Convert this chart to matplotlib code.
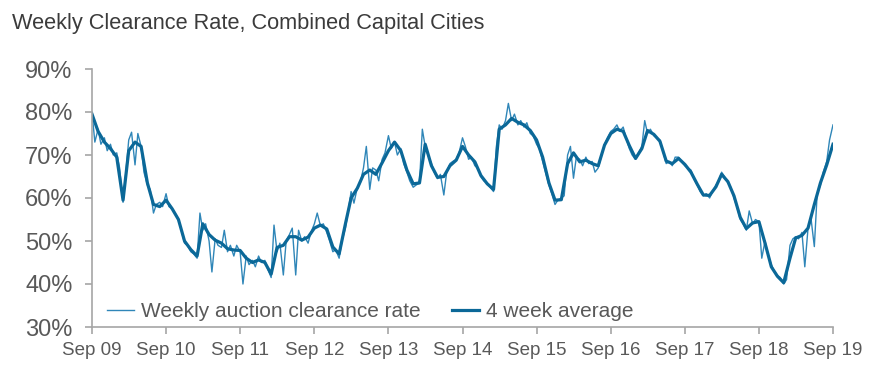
import matplotlib
matplotlib.use("Agg")
import matplotlib.pyplot as plt
import matplotlib.dates as mdates
import pandas as pd

# ---- data ----
title = "Weekly Clearance Rate, Combined Capital Cities"
series_weekly_name = "Weekly auction clearance rate"
series_avg_name = "4 week average"

# weekly auction clearance rate, sampled twice a month (1st and 15th), Sep 2009 .. Sep 2019
weekly_rate = [
    80, 73, 76, 72.5, 74, 71, 72.5, 70, 70.5, 67, 59, 66, 73.5, 75.3, 67.7, 75,
    72, 66, 63, 62, 56.5, 58.5, 59, 58,
    61, 58, 57.5, 56.5, 55, 52.5, 49.5, 49, 47.5, 47, 46, 56.5, 52.5, 54, 50, 42.8,
    50.5, 49, 48.5, 52.5, 47.5, 49, 46.5, 49,
    47.5, 40, 46.5, 44.5, 45.5, 44, 46.5, 45, 45.5, 43.5, 41.5, 53.7, 47.5, 49.5, 42.1, 50,
    51.5, 53, 42.1, 52.5, 50, 51, 49.5, 52,
    54, 56.5, 53.5, 54, 52, 50, 47.5, 48, 46, 50, 53, 57, 61.5, 58.8, 62.5, 63.5,
    67, 72, 62, 67, 66.5, 64, 69, 70.5,
    74.5, 71.5, 73, 70, 71.5, 68, 66, 64, 62.5, 63, 63.5, 76, 72, 70, 68, 66,
    64.5, 65.5, 60.7, 66, 68, 68.5, 69, 70.5,
    74, 72, 69, 69.5, 67.5, 67, 65, 64, 63.5, 62.5, 61.5, 72, 77, 76, 78, 82,
    78, 79.5, 77, 78, 76.5, 77.5, 75, 74.5,
    72.5, 71.5, 68.5, 66, 63, 61, 58.5, 59.5, 60, 60.5, 70, 72, 64.6, 69.5, 69, 67.5,
    69.5, 68, 68.5, 66, 67, 69.5, 72.5, 74,
    75.5, 76, 77, 75.5, 76.5, 74, 71.5, 70, 69, 70.5, 72, 78, 75, 76, 74.5, 74,
    73.5, 71, 68, 68.5, 67.5, 69.5, 69.5, 68.5,
    67.5, 67, 66.5, 64.5, 63, 61.5, 60.5, 61, 60, 61.5, 63, 64, 66, 65, 63.5, 62.5,
    60, 58, 55, 54, 52.5, 57, 54, 55,
    54.5, 46, 50, 47, 44.5, 43, 42, 41.5, 40, 41, 49, 50.5, 51, 50.5, 52, 44,
    53, 55.5, 48.7, 61, 63, 66, 68.5, 73.5,
    77,
]

# 4 week average, monthly, Sep 2009 .. Sep 2019
avg_rate = [
    79.5, 75.5, 73.0, 71.5, 69.5, 59.5, 71, 73, 72, 63.5, 58.5, 58,
    59.5, 57.5, 55, 50, 48, 46.5, 54, 51.5, 50.2, 49.5, 48.2, 47.9,
    47.8, 46, 45, 45.6, 45, 42.3, 48.5, 49, 51, 51, 50.2, 50.9,
    53, 53.7, 52.8, 48.6, 47, 54, 60, 62.3, 65.5, 66.5, 65.5, 68.2,
    71, 73, 71, 66.5, 63.3, 63.5, 72.5, 67.5, 64.8, 65, 67.5, 68.8,
    72, 70, 68.4, 65.2, 63.3, 62, 76, 77, 78.5, 77.6, 77, 75.7,
    73.5, 69.5, 63.5, 59.5, 59.6, 68, 70.5, 68.4, 68.8, 68, 67.5, 72.3,
    75, 76, 75.5, 72.2, 69.2, 71.5, 75.7, 74.8, 73.2, 68.6, 68, 69.2,
    67.8, 66, 63.2, 60.7, 60.6, 62.6, 65.5, 63.8, 60.5, 55.5, 52.9, 54.2,
    54.5, 49.5, 44, 41.8, 40.3, 46, 50.7, 51.3, 53, 58.5, 63.5, 67.7,
    72.5,
]

weekly_dates = pd.date_range("2009-09-01", periods=len(weekly_rate), freq="SMS")
avg_dates = pd.date_range("2009-09-01", periods=len(avg_rate), freq="MS")

tick_dates = pd.date_range("2009-09-01", "2019-09-01", freq="12MS")
tick_labels = ["Sep 09", "Sep 10", "Sep 11", "Sep 12", "Sep 13", "Sep 14",
               "Sep 15", "Sep 16", "Sep 17", "Sep 18", "Sep 19"]
y_ticks = [30, 40, 50, 60, 70, 80, 90]

# ---- drawing ----
plt.rcParams['font.family'] = ['Liberation Sans', 'DejaVu Sans']

fig = plt.figure(figsize=(8.76, 3.76), dpi=100)
ax = fig.add_axes([92/876, 1-327/376, (833-92)/876, (327-69)/376])

weekly_color = "#2f86b8"
avg_color = "#0b6898"
grey = "#a6a6a6"
text_grey = "#595959"

ax.plot(weekly_dates, weekly_rate, color=weekly_color, lw=1.0, label=series_weekly_name)
ax.plot(avg_dates, avg_rate, color=avg_color, lw=2.3, label=series_avg_name)

ax.set_ylim(30, 90)
ax.set_xlim(tick_dates[0], tick_dates[-1])
ax.set_yticks(y_ticks)
ax.set_yticklabels([f"{v}%" for v in y_ticks])
ax.set_xticks(tick_dates)
ax.set_xticklabels(tick_labels)

for s in ["top", "right"]:
    ax.spines[s].set_visible(False)
for s in ["left", "bottom"]:
    ax.spines[s].set_color(grey)
    ax.spines[s].set_linewidth(1.2)

ax.tick_params(axis="x", direction="out", length=5, width=1.2, color=grey,
               labelsize=13.5, labelcolor=text_grey, pad=6)
ax.tick_params(axis="y", direction="out", length=5, width=1.2, color=grey,
               labelsize=17, labelcolor=text_grey, pad=9)

leg = ax.legend(loc="center left", bbox_to_anchor=(0.02, 0.06), ncol=2, frameon=False,
                fontsize=15, handlelength=1.3, handletextpad=0.35, columnspacing=1.5,
                borderpad=0, borderaxespad=0)
for t in leg.get_texts():
    t.set_color(text_grey)

fig.text(12/876, 1-23/376, title, fontsize=15.7, color="#3b3b3b", va="center", ha="left")

fig.savefig("out.png", dpi=100)
